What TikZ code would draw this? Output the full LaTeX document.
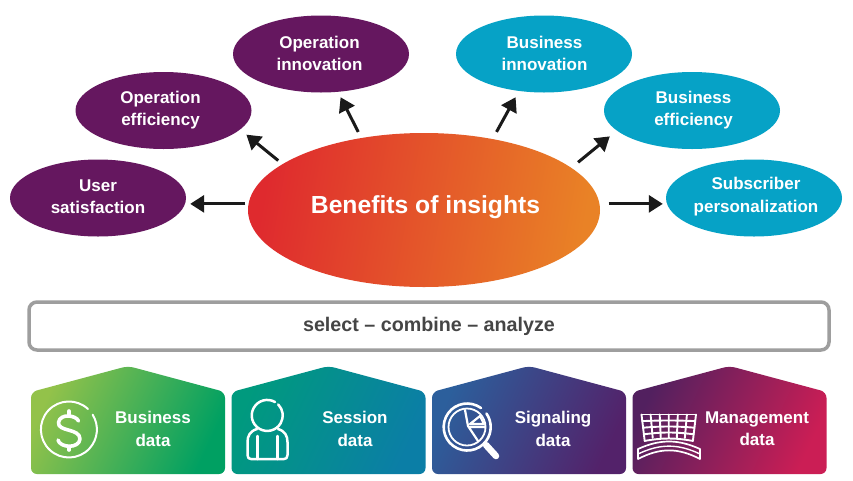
\documentclass[tikz,border=0pt]{standalone}
\usepackage{fontspec}
\setmainfont{Liberation Sans}
\usetikzlibrary{arrows.meta,shapes.geometric}
\definecolor{plum}{HTML}{65175F}
\definecolor{cyanb}{HTML}{06A2C6}
\definecolor{arrowk}{HTML}{1A1A1A}
\definecolor{barline}{HTML}{9E9E9E}
\definecolor{bartext}{HTML}{454545}
\definecolor{hubL}{HTML}{DF2A2E}
\definecolor{hubR}{HTML}{E98226}
\tikzset{
  sat/.style={ellipse,minimum width=176pt,minimum height=77pt,inner sep=0pt},
  plumsat/.style={sat,fill=plum},
  cyansat/.style={sat,fill=cyanb},
  sattext/.style={text=white,font=\fontsize{17}{22.5}\selectfont\bfseries,align=center,inner sep=0pt},
  hub/.style={ellipse,minimum width=352pt,minimum height=154pt,inner sep=0pt,left color=hubL,right color=hubR,shading angle=80},
  hubtext/.style={text=white,font=\fontsize{24.7}{28}\selectfont\bfseries,inner sep=0pt,yshift=3pt,xshift=1.5pt},
  arr/.style={line width=3pt,draw=arrowk,-{Triangle[width=17pt,length=14pt,fill=arrowk]}},
  lbl/.style={text=white,font=\fontsize{17}{22.5}\selectfont\bfseries,align=center,inner sep=0pt},
  icon/.style={draw=white,line width=2.4pt,line cap=round,line join=round},
  thin icon/.style={draw=white,line width=1.7pt,line cap=round,line join=round},
}
\newcommand{\housepath}[5]{%
  \path[rounded corners=6pt,left color=#2,middle color=#3,right color=#4,shading angle=#5]
    (#1,474) -- (#1,392) -- (#1+97,366) -- (#1+194,392) -- (#1+194,474) -- cycle;}
\begin{document}
\begin{tikzpicture}[x=1pt,y=-1pt]
\useasboundingbox (0,0) rectangle (853,480);
\fill[white] (0,0) rectangle (853,480);
% satellites
\node[plumsat,label={[sattext,yshift=1.5pt]center:User\\satisfaction}] (user) at (98,198) {};
\node[plumsat,label={[sattext,xshift=-3pt,yshift=0.5pt]center:Operation\\efficiency}] (opeff) at (163.5,110.5) {};
\node[plumsat,label={[sattext,xshift=-1.5pt,yshift=0.5pt]center:Operation\\innovation}] (opinn) at (321,54) {};
\node[cyansat,label={[sattext,xshift=0.5pt,yshift=0.5pt]center:Business\\innovation}] (businn) at (544,54) {};
\node[cyansat,label={[sattext,xshift=1.5pt,yshift=0.5pt]center:Business\\efficiency}] (buseff) at (692,110.5) {};
\node[cyansat,label={[sattext,xshift=2pt,yshift=1.5pt]center:Subscriber\\personalization}] (subs) at (754,198) {};
\node[hub,label={[hubtext]center:Benefits of insights}] (core) at (424,210) {};
% connectors
\draw[arr,shorten <=3pt,shorten >=4pt] (core.178.6) -- (core.178.6 -| user.east);
\draw[arr,shorten <=5.5pt,shorten >=8pt] (core.162.2) -- (opeff.-14.6);
\draw[arr,shorten <=6.7pt,shorten >=5.9pt] (core.131.2) -- (opinn.-66.6);
\draw[arr,shorten <=8pt,shorten >=7pt] (core.46.7) -- (businn.-124.6);
\draw[arr,shorten <=8.6pt,shorten >=9pt] (core.16.9) -- (buseff.-165.9);
\draw[arr,shorten <=9pt,shorten >=3pt] (core.2.28) -- (core.2.28 -| subs.west);
% bar
\node[draw=barline,line width=3.5pt,rounded corners=8pt,minimum width=800pt,minimum height=48pt,inner sep=0pt,text=bartext,font=\fontsize{19.7}{24}\selectfont\bfseries] (bar) at (429,326) {select – combine – analyze};
% houses
\definecolor{g1}{HTML}{93C24A}\definecolor{gm}{HTML}{4FAF5C}\definecolor{g2}{HTML}{00A062}
\definecolor{t1}{HTML}{009A7E}\definecolor{tm}{HTML}{058D92}\definecolor{t2}{HTML}{0B7EA6}
\definecolor{b1}{HTML}{2C5F9C}\definecolor{bm}{HTML}{404280}\definecolor{b2}{HTML}{53226A}
\definecolor{m1}{HTML}{52205F}\definecolor{mm}{HTML}{8D215C}\definecolor{m2}{HTML}{CB1E55}
\housepath{31}{g1}{gm}{g2}{65}
\housepath{231.5}{t1}{tm}{t2}{65}
\housepath{432}{b1}{bm}{b2}{65}
\housepath{632.5}{m1}{mm}{m2}{65}
\node[lbl] (l1) at (153,428.7) {Business\\data};
\node[lbl] (l2) at (355,428.7) {Session\\data};
\node[lbl] (l3) at (553,428.7) {Signaling\\data};
\node[lbl] (l4) at (757,428.7) {Management\\data};
% dollar icon
\draw[draw=white,line width=2pt,line cap=round] (88,409) arc[start angle=47,end angle=392,x radius=28,y radius=-28];
\draw[icon,line width=3.6pt] (78.5,421) .. controls (76,415) and (60,413) .. (58.5,422.5) .. controls (57.5,432) and (80,428) .. (80,439) .. controls (79,449) and (60,448) .. (58,440);
\draw[icon,line width=3.6pt] (69,411) -- (69,414) (69,447) -- (69,450);
% person icon
\draw[icon,line width=2.5pt] (275,402) arc[start angle=60,end angle=405,x radius=15.5,y radius=-15.5];
\draw[icon,line width=2.5pt] (257,429) .. controls (250,431) and (247.5,436) .. (247.5,442) -- (247.5,455) .. controls (247.5,458) and (249,459) .. (251,459) -- (284,459) .. controls (286,459) and (287.5,458) .. (287.5,455) -- (287.5,442) .. controls (287.5,436) and (285,431) .. (278,429);
\draw[icon,line width=2.5pt] (257.5,436) -- (257.5,459) (277.5,436) -- (277.5,459);
% magnifier icon
\draw[icon,line width=2.6pt] (481,408) arc[start angle=54,end angle=395,x radius=23.5,y radius=-23.5];
\draw[icon,line width=1.8pt] (467,427) circle[radius=18.5];
\draw[thin icon,line width=2.2pt] (465,410) -- (468,426) -- (478,441) (469,427) -- (485,427) (470,424) -- (480,416) -- (484,424) -- cycle;
\draw[icon,line width=6.5pt] (486,445) -- (496,456);
% grid icon
\foreach \j in {0,...,4}{
  \pgfmathsetmacro{\yy}{414.5+\j*6.6}
  \pgfmathsetmacro{\bb}{\j*0.8}
  \pgfmathsetmacro{\xa}{641.5+\j*0.8}
  \pgfmathsetmacro{\xb}{696-\j*0.8}
  \draw[thin icon,line width=1.9pt] (\xa,\yy) .. controls (\xa+18,\yy-\bb) and (\xb-18,\yy-\bb) .. (\xb,\yy);
}
\foreach \i in {0,...,6}{
  \pgfmathsetmacro{\xa}{641.5+\i*9.08}
  \pgfmathsetmacro{\xb}{644.7+\i*8.03}
  \draw[thin icon,line width=1.9pt] (\xa,414.5) -- (\xb,\ifnum\i=0 441\else\ifnum\i=6 441\else 438\fi\fi);
}
\draw[thin icon] (638,449) .. controls (660,439) and (678,439) .. (700,449) -- (700,459) .. controls (678,447.5) and (660,447.5) .. (638,459) -- cycle;
\draw[thin icon,line width=1.4pt] (638,454) .. controls (660,443.5) and (678,443.5) .. (700,454);
\end{tikzpicture}
\end{document}
